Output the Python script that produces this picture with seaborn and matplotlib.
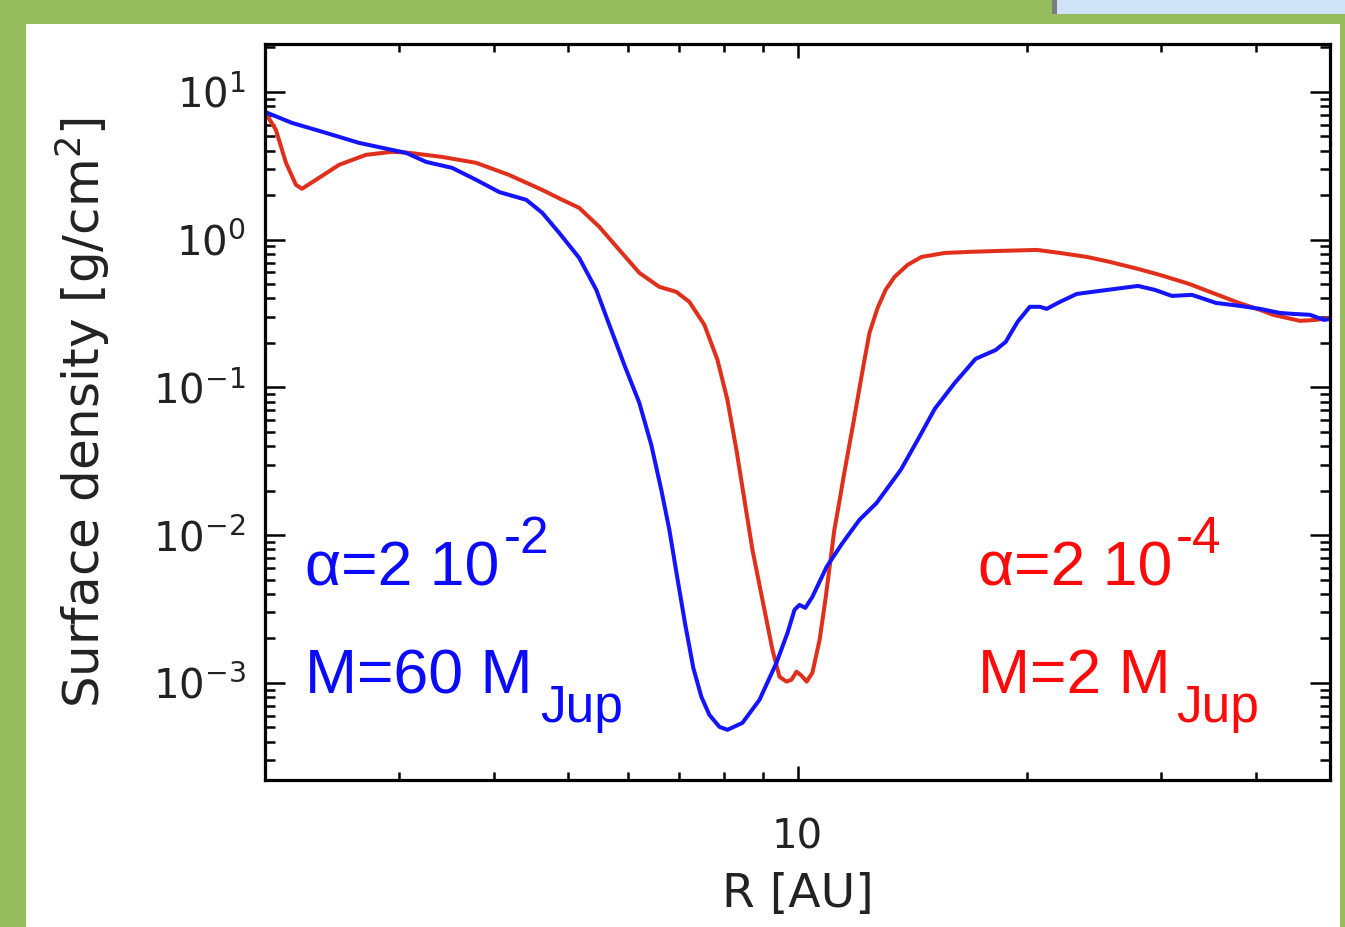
import numpy as np
import pandas as pd
import matplotlib
matplotlib.use("Agg")
import matplotlib.pyplot as plt
import seaborn as sns
from matplotlib.ticker import LogLocator, NullFormatter, FixedLocator, FixedFormatter, LogFormatterMathtext
from matplotlib.patches import Rectangle

# ---------------- data ----------------
r_blue = [2.0, 2.170, 2.405, 2.657, 2.936, 3.063, 3.254, 3.521, 3.786, 4.059, 4.405, 4.623,
          4.867, 5.170, 5.444, 5.662, 5.925, 6.200, 6.428, 6.626, 6.788, 6.954, 7.124, 7.299,
          7.479, 7.662, 7.897, 8.091, 8.467, 8.914, 9.385, 9.703, 9.91, 10.06, 10.24, 10.46,
          10.92, 11.46, 12.06, 12.70, 13.66, 14.38, 15.14, 16.08, 17.13, 18.20, 18.76, 19.45,
          20.18, 20.80, 21.24, 22.10, 23.26, 24.94, 27.98, 29.45, 31.01, 32.94, 35.42, 38.09,
          40.46, 42.98, 44.84, 47.06, 49.11, 50.0]
sigma_blue = [7.32, 6.17, 5.28, 4.52, 4.05, 3.87, 3.36, 3.06, 2.54, 2.10, 1.86, 1.52,
              1.11, 0.752, 0.457, 0.265, 0.142, 0.0785, 0.0408, 0.0202, 0.0109, 0.00514, 0.00247, 0.00126,
              0.000804, 0.000607, 0.000504, 0.000481, 0.000536, 0.000767, 0.00137, 0.00218, 0.00312, 0.00337, 0.00322, 0.00382,
              0.00610, 0.00886, 0.0127, 0.0165, 0.0276, 0.0441, 0.0715, 0.107, 0.156, 0.179, 0.203, 0.278,
              0.351, 0.351, 0.340, 0.379, 0.429, 0.450, 0.486, 0.457, 0.416, 0.423, 0.373, 0.356,
              0.340, 0.319, 0.314, 0.310, 0.286, 0.291]

r_red = [2.0, 2.067, 2.131, 2.196, 2.236, 2.333, 2.502, 2.714, 2.936, 3.091, 3.416, 3.786,
         4.184, 4.623, 4.911, 5.170, 5.494, 5.836, 6.200, 6.587, 6.934, 7.212, 7.547, 7.850,
         8.091, 8.314, 8.518, 8.727, 8.995, 9.272, 9.470, 9.672, 9.82, 9.97, 10.12, 10.28,
         10.46, 10.69, 10.88, 11.02, 11.18, 11.36, 11.49, 11.67, 11.85, 12.03, 12.21, 12.43,
         12.74, 13.05, 13.41, 13.95, 14.55, 15.61, 16.78, 18.42, 20.61, 22.10, 23.98, 25.70,
         27.98, 29.90, 32.65, 34.79, 37.97, 40.46, 42.09, 45.66, 47.78, 50.0]
sigma_red = [7.32, 5.53, 3.31, 2.35, 2.21, 2.54, 3.21, 3.75, 3.93, 3.87, 3.63, 3.31,
             2.74, 2.17, 1.86, 1.64, 1.22, 0.852, 0.596, 0.479, 0.443, 0.379, 0.265, 0.154,
             0.0823, 0.0378, 0.0173, 0.00795, 0.00365, 0.00167, 0.00110, 0.00102, 0.00105, 0.00119, 0.00112, 0.00102,
             0.00117, 0.00195, 0.00365, 0.00610, 0.0109, 0.0173, 0.0245, 0.0382, 0.0589, 0.0920, 0.142, 0.234,
             0.345, 0.457, 0.560, 0.675, 0.764, 0.813, 0.826, 0.839, 0.852, 0.813, 0.764, 0.707,
             0.634, 0.577, 0.502, 0.443, 0.373, 0.335, 0.310, 0.282, 0.286, 0.295]

models = ["alpha=2e-4, M=2 MJup", "alpha=2e-2, M=60 MJup"]
line_colors = {models[0]: "#e0301c", models[1]: "#1414ff"}

x_major_ticks = [10]
x_major_labels = ["10"]
xlim = (2.0, 50.0)
ylim = (2.2e-4, 21.1)

# ---------------- figure ----------------
W, H = 1345, 927
sns.set_theme(style="ticks")
plt.rcParams["font.family"] = ["DejaVu Sans"]
plt.rcParams["mathtext.fontset"] = "dejavusans"

fig = plt.figure(figsize=(W / 100, H / 100), dpi=100)
fig.patch.set_facecolor("#95bd5e")
# white slide panel and top-right image fragment
fig.add_artist(Rectangle((26 / W, 0), (1340 - 26) / W, (H - 24) / H,
                         transform=fig.transFigure, facecolor="white", edgecolor="none", zorder=0))
fig.add_artist(Rectangle((1057 / W, 1 - 14 / H), (W - 1057) / W, 14 / H,
                         transform=fig.transFigure, facecolor="#cfe2f8", edgecolor="none", zorder=0))
fig.add_artist(Rectangle((1052 / W, 1 - 14 / H), 5 / W, 14 / H,
                         transform=fig.transFigure, facecolor="#7d7d7d", edgecolor="none", zorder=0))

ax = fig.add_axes([265 / W, (H - 780) / H, (1330 - 265) / W, (780 - 44) / H])
ax.set_facecolor("white")

df = pd.concat([
    pd.DataFrame({"R": r_red, "sigma": sigma_red, "model": models[0]}),
    pd.DataFrame({"R": r_blue, "sigma": sigma_blue, "model": models[1]}),
])
sns.lineplot(data=df, x="R", y="sigma", hue="model", hue_order=models, palette=line_colors,
             estimator=None, sort=False, legend=False, linewidth=2.9, ax=ax)
for ln in ax.get_lines():
    ln.set_solid_joinstyle("round")
    ln.set_solid_capstyle("round")

ax.set_xscale("log")
ax.set_yscale("log")
ax.set_xlim(*xlim)
ax.set_ylim(*ylim)

ax.xaxis.set_major_locator(FixedLocator(x_major_ticks))
ax.xaxis.set_major_formatter(FixedFormatter(x_major_labels))
ax.xaxis.set_minor_locator(LogLocator(base=10, subs=np.arange(2, 10), numticks=50))
ax.xaxis.set_minor_formatter(NullFormatter())
ax.yaxis.set_major_locator(LogLocator(base=10, numticks=20))
ax.yaxis.set_major_formatter(LogFormatterMathtext())
ax.yaxis.set_minor_locator(LogLocator(base=10, subs=np.arange(2, 10), numticks=50))
ax.yaxis.set_minor_formatter(NullFormatter())

for s in ax.spines.values():
    s.set_linewidth(2.3)
    s.set_color("black")
ax.tick_params(which="both", direction="in", top=True, right=True, color="black", width=1.8)
ax.tick_params(axis="y", which="major", length=14.5, labelsize=29, pad=14)
ax.tick_params(axis="y", which="minor", length=7)
ax.tick_params(axis="x", which="major", length=10, labelsize=29, pad=27)
ax.tick_params(axis="x", which="minor", length=5.5)
for lab in ax.get_xticklabels() + ax.get_yticklabels():
    lab.set_color("#222222")

ax.set_xlabel("R [AU]", fontsize=34, color="#222222")
ax.set_ylabel("Surface density [g/cm$^2$]", fontsize=36, color="#222222")
ax.xaxis.set_label_coords(0.5, -0.125)
ax.yaxis.set_label_coords(-0.144, 0.5)

# ---------------- annotations ----------------
def ftxt(px, py, s, size, color):
    fig.text(px / W, 1 - py / H, s, fontsize=size, color=color, va="baseline", ha="left",
             family="Liberation Sans")

blue_t = "#0a0aff"
red_t = "#ff0a0a"
ftxt(305, 585, "\u03b1=2 10", 45, blue_t)
ftxt(504, 553, "-2", 37, blue_t)
ftxt(305, 693, "M=60 M", 45, blue_t)
ftxt(540, 722, "Jup", 37, blue_t)

ftxt(978, 585, "\u03b1=2 10", 45, red_t)
ftxt(1176, 553, "-4", 37, red_t)
ftxt(978, 693, "M=2 M", 45, red_t)
ftxt(1176, 722, "Jup", 37, red_t)

fig.savefig("out.png", dpi=100, facecolor=fig.get_facecolor())
